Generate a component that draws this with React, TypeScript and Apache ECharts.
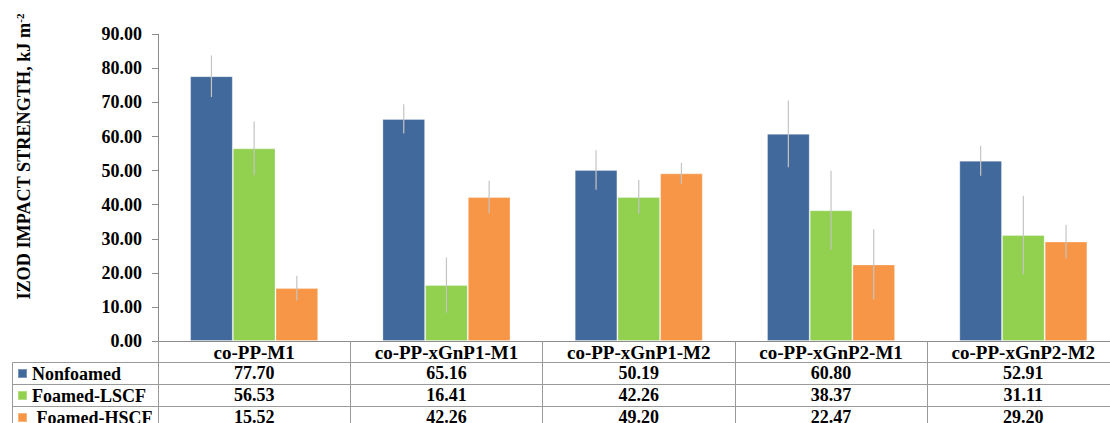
import React, { useEffect, useRef } from "react";
import * as echarts from "echarts";

// Impact strength of the co-PP samples, three processing states per sample
const categories = [
  "co-PP-M1",
  "co-PP-xGnP1-M1",
  "co-PP-xGnP1-M2",
  "co-PP-xGnP2-M1",
  "co-PP-xGnP2-M2",
];
const seriesNames = ["Nonfoamed", "Foamed-LSCF", "Foamed-HSCF"];
const nonfoamed = [77.7, 65.16, 50.19, 60.8, 52.91];
const foamedLSCF = [56.53, 16.41, 42.26, 38.37, 31.11];
const foamedHSCF = [15.52, 42.26, 49.2, 22.47, 29.2];
// standard deviations shown as error bars
const nonfoamedErr = [6.1, 4.3, 5.8, 9.8, 4.4];
const foamedLSCFErr = [7.9, 8.1, 5.0, 11.6, 11.5];
const foamedHSCFErr = [3.6, 4.8, 3.1, 10.3, 4.9];
const yTicks = { min: 0, max: 90, interval: 10 };

const colors = ["#41699b", "#92d050", "#f79646"];
const FONT = "'Liberation Serif', 'Times New Roman', serif";
const CHART_H = 450;
const GRID_LEFT = 158;
const GRID_TOP = 34.3;
const AXIS_Y = 341;
const CAT_GAP = 0.334;

export default function App() {
  const ref = useRef<HTMLDivElement>(null);

  useEffect(() => {
    if (!ref.current) return;
    const chart = echarts.init(ref.current, null, { renderer: "svg" });
    const values = [nonfoamed, foamedLSCF, foamedHSCF];
    const errors = [nonfoamedErr, foamedLSCFErr, foamedHSCFErr];

    const errData: number[][] = [];
    values.forEach((arr, s) =>
      arr.forEach((v, i) => errData.push([i, v, errors[s][i], s]))
    );

    const labelText = {
      fontFamily: FONT,
      fontWeight: "bold" as const,
      fontSize: 18,
      color: "#000",
    };

    const rowAxis = (row: number[], offset: number) => ({
      type: "category" as const,
      data: categories,
      position: "bottom" as const,
      offset,
      axisLine: { show: false },
      axisTick: { show: false },
      axisLabel: {
        ...labelText,
        interval: 0,
        margin: 1,
        lineHeight: 20,
        formatter: (_: string, idx: number) => row[idx].toFixed(2),
      },
    });

    const tableLine = (y: number) => ({
      type: "line",
      shape: { x1: 12.5, y1: y, x2: 1130, y2: y },
      style: { stroke: "#9a9a9a", lineWidth: 1 },
      silent: true,
    });

    chart.setOption({
      animation: false,
      grid: {
        left: GRID_LEFT,
        top: GRID_TOP,
        right: 10.5,
        bottom: CHART_H - AXIS_Y,
        containLabel: false,
      },
      legend: {
        data: seriesNames,
        orient: "vertical",
        left: 17,
        top: 362.5,
        itemWidth: 9,
        itemHeight: 9,
        itemGap: 0,
        icon: "rect",
        selectedMode: false,
        padding: 0,
        formatter: (name: string) =>
          name === "Foamed-HSCF" ? "\u00a0" + name : name,
        textStyle: { ...labelText, lineHeight: 22, padding: [0, 0, 0, 0] },
      },
      xAxis: [
        {
          type: "category",
          data: categories,
          position: "bottom",
          axisLine: { show: true, lineStyle: { color: "#8c8c8c", width: 1 } },
          axisTick: {
            show: true,
            interval: 0,
            length: 110,
            lineStyle: { color: "#9a9a9a", width: 1 },
          },
          axisLabel: {
            ...labelText,
            fontSize: 19,
            interval: 0,
            margin: 1,
            lineHeight: 20,
          },
        },
        rowAxis(nonfoamed, 21),
        rowAxis(foamedLSCF, 43),
        rowAxis(foamedHSCF, 65),
      ],
      yAxis: {
        type: "value",
        min: yTicks.min,
        max: yTicks.max,
        interval: yTicks.interval,
        name: "IZOD IMPACT STRENGTH, kJ m{sup|-2}",
        nameLocation: "middle",
        nameRotate: 90,
        nameGap: 125,
        nameTextStyle: {
          fontFamily: FONT,
          fontWeight: "bold",
          fontSize: 18.2,
          color: "#000",
          padding: [0, 0, 0, 62],
          rich: {
            sup: {
              fontFamily: FONT,
              fontWeight: "bold",
              fontSize: 11,
              color: "#000",
              verticalAlign: "top",
              padding: [0, 0, 8, 0],
            },
          },
        },
        axisLine: { show: true, lineStyle: { color: "#8c8c8c", width: 1 } },
        axisTick: { show: true, length: 6, lineStyle: { color: "#8c8c8c" } },
        splitLine: { show: false },
        axisLabel: {
          ...labelText,
          margin: 16,
          formatter: (v: number) => v.toFixed(2),
        },
      },
      series: [
        ...seriesNames.map((name, s) => ({
          name,
          type: "bar",
          data: values[s],
          barGap: "0%",
          barCategoryGap: CAT_GAP * 100 + "%",
          itemStyle: {
            color: colors[s],
            borderColor: "rgba(255,255,255,0.3)",
            borderWidth: 1,
          },
        })),
        {
          type: "custom",
          name: "error",
          z: 10,
          data: errData,
          encode: { x: 0, y: 1 },
          renderItem: (_params: any, api: any) => {
            const cat = api.value(0);
            const val = api.value(1);
            const err = api.value(2);
            const s = api.value(3);
            const catW = api.size([1, 0])[0];
            const barW = (catW * (1 - CAT_GAP)) / 3;
            const top = api.coord([cat, val + err]);
            const bot = api.coord([cat, val - err]);
            const x = top[0] + (s - 1) * barW;
            return {
              type: "line",
              shape: { x1: x, y1: top[1], x2: x, y2: bot[1] },
              style: { stroke: "#c4c4c4", lineWidth: 1.2 },
            };
          },
        },
      ],
      graphic: [
        tableLine(362.5),
        tableLine(384.5),
        tableLine(406.5),
        tableLine(428.5),
        {
          type: "line",
          shape: { x1: 12.5, y1: 362.5, x2: 12.5, y2: 450 },
          style: { stroke: "#9a9a9a", lineWidth: 1 },
          silent: true,
        },
      ],
    });

    return () => chart.dispose();
  }, []);

  return (
    <div
      style={{
        position: "fixed",
        left: 0,
        top: 0,
        width: 1110,
        height: 423,
        overflow: "hidden",
        background: "#fff",
      }}
    >
      <div ref={ref} style={{ width: 1130, height: CHART_H }} />
    </div>
  );
}
